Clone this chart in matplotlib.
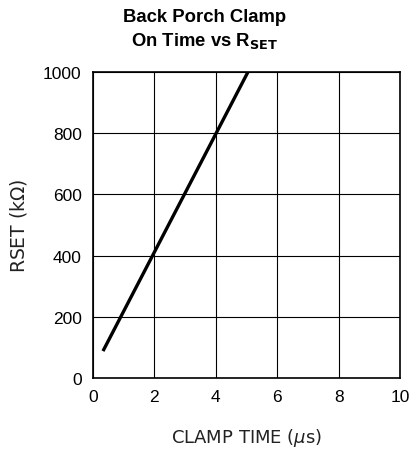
import matplotlib.pyplot as plt

# straight line of on time vs RSET
clamp_time = [0.33, 5.05]
rset = [88, 1000]
x_ticks = [0, 2, 4, 6, 8, 10]
y_ticks = [0, 200, 400, 600, 800, 1000]

plt.rcParams['font.family'] = ['Liberation Sans', 'DejaVu Sans']

fig = plt.figure(figsize=(4.09, 4.52), dpi=100)
ax = fig.add_axes([0.227, 0.1615, 0.751, 0.677])

ax.plot(clamp_time, rset, color='black', linewidth=2.4, solid_capstyle='butt')

ax.set_xlim(0, 10)
ax.set_ylim(0, 1000)
ax.set_xticks(x_ticks)
ax.set_yticks(y_ticks)
ax.tick_params(length=0, labelsize=12.5, pad=8)
ax.grid(True, color='black', linewidth=0.8)
for s in ax.spines.values():
    s.set_linewidth(1.2)

ax.set_xlabel(r'CLAMP TIME ($\mu$s)', fontsize=13, labelpad=16,
              family='DejaVu Sans', color='#222222')
ax.set_ylabel(r'RSET (k$\Omega$)', fontsize=13.5, labelpad=10,
              family='DejaVu Sans', color='#222222')

fig.text(0.5, 0.962, 'Back Porch Clamp', ha='center', va='center',
         fontsize=13.3, fontweight='bold')
fig.text(0.5, 0.91, r'On Time vs R$_{\mathbf{SET}}$', ha='center', va='center',
         fontsize=13.3, fontweight='bold')

fig.savefig('out.png', dpi=100)
